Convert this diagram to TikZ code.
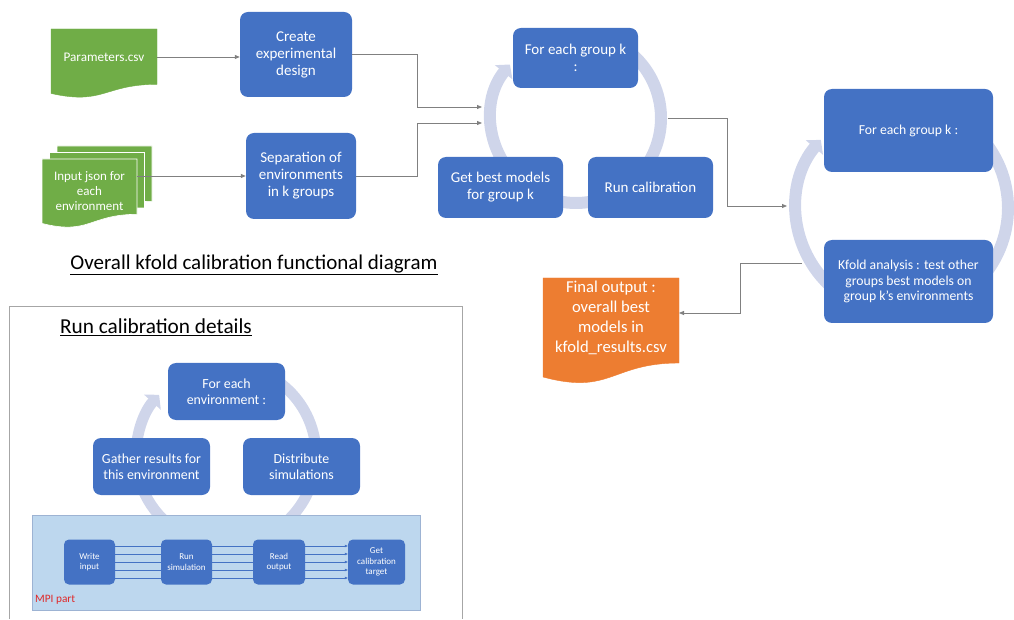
\documentclass[tikz,border=0pt]{standalone}
\usepackage{fontspec}
\setmainfont{Carlito}
\usepackage{tikz}
\usetikzlibrary{arrows.meta}

\definecolor{boxblue}{HTML}{4472C4}
\definecolor{docgreen}{HTML}{70AD47}
\definecolor{docorange}{HTML}{ED7D31}
\definecolor{ringblue}{HTML}{CFD5EA}
\definecolor{linegray}{HTML}{808080}
\definecolor{mpifill}{HTML}{BDD7EE}
\definecolor{mpiborder}{HTML}{9DB3D3}
\definecolor{mpired}{HTML}{E02828}
\definecolor{panelgray}{HTML}{A6A6A6}

% document sheet with a wavy bottom: x0, ytop, width, height, fill
\newcommand{\docsheet}[5]{%
  \filldraw[#5] (#1,#2) -- (#1+#3,#2) -- (#1+#3,#2-0.802*#4)
    .. controls (#1+0.5*#3,#2-0.802*#4) and (#1+0.5*#3,#2-1.107*#4) .. (#1,#2-0.934*#4) -- cycle;}

\begin{document}
\begin{tikzpicture}[x=1pt, y=1pt,
    bluebox/.style={fill=boxblue, rounded corners=8pt, text=white, align=center, inner sep=1pt},
    smallbox/.style={fill=boxblue, rounded corners=5pt, text=white, align=center, inner sep=0pt,
      minimum height=45pt, font=\fontsize{9}{10.5}\selectfont},
    doctext/.style={text=white, align=center, inner sep=0pt},
    conn/.style={draw=linegray, line width=0.8pt, -{Triangle[length=5pt, width=4pt]}},
    ring/.style={draw=ringblue, line width=12pt},
    ringtip/.style={-{Triangle[length=10pt, width=22pt]}},
    mpiline/.style={draw=boxblue, line width=0.5pt},
    title/.style={text=black, inner sep=0pt}]
    \useasboundingbox (0,0) rectangle (1014,619);

    % Inputs
    \docsheet{51}{590}{106}{69}{docgreen, draw=docgreen}
    \node[doctext, minimum width=106pt, font=\fontsize{13.2}{15}\selectfont] (pars) at (104,562) {Parameters.csv};
    \docsheet{57}{473}{95}{69}{docgreen, draw=white, line width=0.6pt}
    \docsheet{49.5}{466.5}{95}{69}{docgreen, draw=white, line width=0.6pt}
    \docsheet{42}{460}{95}{69}{docgreen, draw=white, line width=0.6pt}
    \node[doctext, minimum width=95pt, font=\fontsize{13}{15}\selectfont] (json) at (89.5,428) {Input json for\\each\\environment};

    % Preparation steps
    \node[bluebox, minimum width=112pt, minimum height=85pt, font=\fontsize{15}{17}\selectfont] (create) at (296,564.5) {Create\\experimental\\design};
    \node[bluebox, minimum width=110pt, minimum height=86pt, font=\fontsize{15}{17}\selectfont] (sep) at (301,443) {Separation of\\environments\\in k groups};
    \draw[conn] (pars.east) -- (pars.east -| create.west);
    \draw[conn] (json.east |- sep.west) -- (sep.west);

    % Calibration cycle
    \draw[ring, ringtip] (576,501) ++(50:85) arc[start angle=50, end angle=-219, radius=85];
    \node[bluebox, minimum width=125pt, minimum height=60pt, font=\fontsize{15}{17}\selectfont] (grp) at (575.5,561) {For each group k\\:};
    \node[bluebox, minimum width=125pt, minimum height=61pt, font=\fontsize{15}{17}\selectfont] (best) at (500.5,431.5) {Get best models\\for group k};
    \node[bluebox, minimum width=125pt, minimum height=61pt, font=\fontsize{15}{17}\selectfont] (runcal) at (650.5,431.5) {Run calibration};
    \coordinate (in1) at (482,512);
    \coordinate (in2) at (482,496);
    \draw[conn] (create.east) -| ([xshift=-65pt]in1) -- (in1);
    \draw[conn] (sep.east) -| ([xshift=-65pt]in2) -- (in2);

    % Kfold cycle
    \draw[ring, ringtip] (902,411) ++(45:106) arc[start angle=45, end angle=-220, radius=106];
    \node[bluebox, minimum width=169pt, minimum height=83pt, font=\fontsize{13.7}{15.5}\selectfont] (kgrp) at (908.5,488.5) {For each group k :};
    \node[bluebox, minimum width=169pt, minimum height=83pt, font=\fontsize{13.7}{15.5}\selectfont] (kfold) at (908.5,337.5) {Kfold analysis : test other\\groups best models on\\group k's environments};
    \coordinate (out1) at (668,501);
    \coordinate (in3) at (787,413);
    \draw[conn] (out1) -| ([xshift=-60pt]in3) -- (in3);

    % Final output
    \docsheet{543}{341}{136}{106}{docorange, draw=docorange}
    \node[doctext, minimum width=136pt, font=\fontsize{16.6}{20}\selectfont] (final) at (611,301) {Final output :\\overall best\\models in\\kfold\_results.csv};
    \coordinate (out2) at (802,356);
    \coordinate (fin) at (679,306);
    \draw[conn] (out2) -| ([xshift=61pt]fin) -- (fin);

    \node[title, font=\fontsize{21}{24}\selectfont] (maintitle) at (254,354) {\underline{Overall kfold calibration functional diagram}};

    % Run calibration details panel
    \draw[panelgray, line width=0.8pt] (9,0) -- (9,313) -- (462,313) -- (462,0);
    \node[title, font=\fontsize{21.3}{24}\selectfont] (runtitle) at (156,292) {\underline{Run calibration details}};
    \draw[ring, line width=11pt, ringtip] (226,164) ++(60:90) arc[start angle=60, end angle=-222, radius=90];
    \node[bluebox, minimum width=117pt, minimum height=57pt, font=\fontsize{13.9}{16}\selectfont] (env) at (226.5,227.5) {For each\\environment :};
    \node[bluebox, minimum width=117pt, minimum height=57pt, font=\fontsize{13.9}{16}\selectfont] (gather) at (151.5,152.5) {Gather results for\\this environment};
    \node[bluebox, minimum width=117pt, minimum height=57pt, font=\fontsize{13.9}{16}\selectfont] (distr) at (301.5,152.5) {Distribute\\simulations};

    % MPI part
    \draw[draw=mpiborder, fill=mpifill, line width=0.8pt] (32,9) rectangle (420,104);
    \node[anchor=west, text=mpired, inner sep=0pt, font=\fontsize{11.3}{13}\selectfont] (mpilbl) at (35,19) {MPI part};
    \node[smallbox, minimum width=51pt] (write) at (89.5,57) {Write\\input};
    \node[smallbox, minimum width=51pt] (runsim) at (186.5,57) {Run\\simulation};
    \node[smallbox, minimum width=52pt] (readout) at (279,57) {Read\\output};
    \node[smallbox, minimum width=57pt] (target) at (376.5,57) {Get\\calibration\\target};
    \foreach \d in {-16,-8,0,8,16} {
        \draw[mpiline] ([yshift=\d pt]write.east) -- ([yshift=\d pt]runsim.west);
        \draw[mpiline] ([yshift=\d pt]runsim.east) -- ([yshift=\d pt]readout.west);
        \draw[mpiline, -{Triangle[length=3pt, width=2.5pt]}] ([yshift=\d pt]readout.east) -- ([yshift=\d pt]target.west);
    }
\end{tikzpicture}
\end{document}
